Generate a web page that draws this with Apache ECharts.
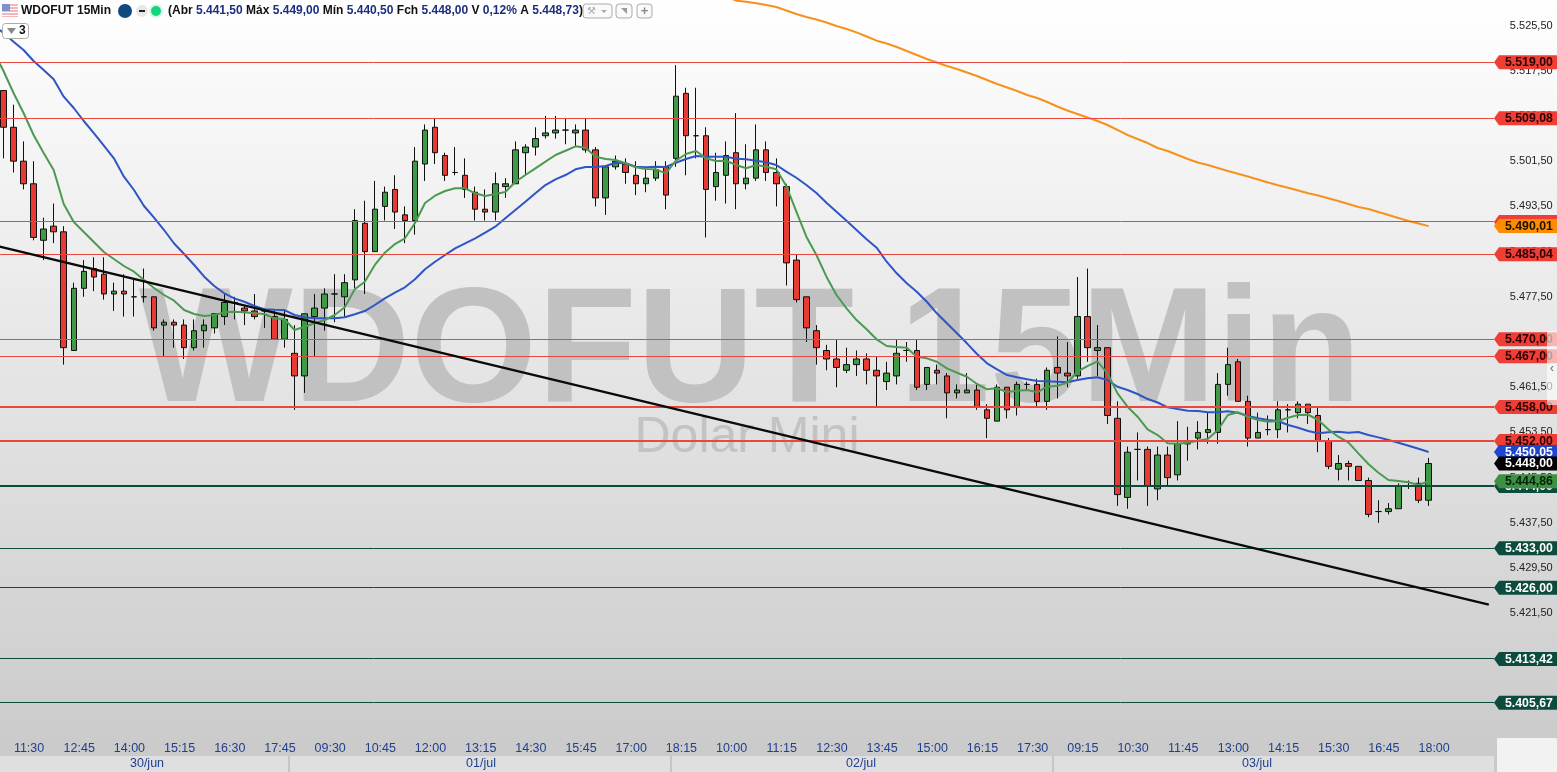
<!DOCTYPE html>
<html>
<head>
<meta charset="utf-8">
<style>html,body{margin:0;padding:0;background:#fff;overflow:hidden;width:1557px;height:772px;position:relative}#c{position:absolute;left:-12px;top:0;width:1569px;height:772px}</style>
<script src="https://cdn.jsdelivr.net/npm/echarts@6/dist/echarts.min.js"></script>
</head>
<body>
<div id="c"></div>
<script>
// Session time grids
const day1Times = ['11:00','11:15','11:30','11:45','12:00','12:15','12:30','12:45','13:00','13:15','13:30','13:45','14:00','14:15','14:30','14:45','15:00','15:15','15:30','15:45','16:00','16:15','16:30','16:45','17:00','17:15','17:30','17:45','18:00','18:15'];
const fullDayTimes = ['09:00','09:15','09:30','09:45','10:00','10:15','10:30','10:45','11:00','11:15','11:30','11:45','12:00','12:15','12:30','12:45','13:00','13:15','13:30','13:45','14:00','14:15','14:30','14:45','15:00','15:15','15:30','15:45','16:00','16:15','16:30','16:45','17:00','17:15','17:30','17:45','18:00','18:15'];
const day4Times = fullDayTimes.slice(0, 37);
const dateLabels = ['30/jun','01/jul','02/jul','03/jul'];

// [open, close, low, high]
const candles = [
[5514,5507.5,5502,5514],[5507.5,5501.5,5499.5,5511.5],[5501.5,5497.5,5496.5,5505],[5497.5,5488,5487.5,5501.5],[5487.5,5489.5,5484,5491.5],
[5490,5489,5487,5494],[5489,5468.5,5465.5,5490],[5468,5479,5468,5480],[5479,5482,5477.5,5484],[5482.5,5481,5478.5,5484.5],
[5481.5,5478,5477,5484.5],[5478,5478.5,5475,5480],[5478.5,5478,5474,5481.5],[5477.5,5477.5,5474,5480.5],[5477.5,5477.5,5476.5,5482.5],
[5477.5,5472,5471.5,5477.5],[5472.5,5473,5467,5473.5],[5473,5472.5,5468.5,5473.5],[5472.5,5468.5,5466.5,5473.5],[5468.5,5471.5,5468,5473.5],
[5471.5,5472.5,5468.5,5473.5],[5472,5474.5,5471,5474.5],[5474,5476.5,5472.5,5478],[5476.5,5476.5,5473.5,5477.5],[5475.5,5475,5472.5,5476],
[5475,5474,5473.5,5478],[5475,5475,5472,5475.5],[5474,5470,5470,5475],[5470,5473.5,5468.5,5475],[5467.5,5463.5,5457.5,5472.5],
[5463.5,5474.5,5460.5,5474.5],[5474,5475.5,5467,5478],[5475.5,5478,5471.5,5479],[5478,5478,5473,5481.5],[5477.5,5480,5474,5481.5],
[5480.5,5491,5479,5493],[5490.5,5485.5,5478,5494.5],[5485.5,5493,5485.5,5498],[5493.5,5496,5491,5497],[5496.5,5492.5,5489.5,5499],
[5492,5491,5487,5493.5],[5491,5501.5,5488.5,5504],[5501,5507,5498,5508],[5507.5,5503,5501,5509],[5502.5,5499,5498,5503],
[5499.5,5499.5,5499,5504],[5499,5496.5,5495,5502],[5496,5493,5491,5497],[5493,5492.5,5491,5496.5],[5492.5,5497.5,5491,5499.5],
[5497,5497.5,5495,5498.5],[5497.5,5503.5,5497.5,5505],[5503,5504,5499,5504.5],[5504,5505.5,5502.5,5507.5],[5506,5506.5,5505.5,5509.5],
[5506.5,5507,5505.5,5509.5],[5507,5507,5504.5,5509],[5506.5,5507,5504,5508],[5507,5503.5,5503,5509],[5503.5,5495,5493.5,5504],
[5495,5500.5,5492,5500.5],[5500.5,5501.5,5500,5502.5],[5501,5499.5,5497.5,5502],[5499,5497.5,5495.5,5501.5],[5497.5,5498.5,5496,5500],
[5498.5,5500,5498,5501.5],[5500.5,5495.5,5493,5501.5],[5502,5513,5500.5,5518.5],[5513.5,5506,5499,5514.5],[5506,5506,5502,5514.5],
[5506,5496.5,5488,5507.5],[5497,5499.5,5494.5,5503],[5499,5502.5,5494,5505],[5503,5497.5,5493,5510],[5497.5,5498.5,5496.5,5504.5],
[5498.5,5503.5,5498,5508],[5503.5,5499.5,5498,5505],[5499.5,5497.5,5493.5,5502],[5497,5483.5,5479.5,5497.5],[5484,5477,5476.5,5485],
[5477.5,5472,5469.5,5477.5],[5471.5,5468.5,5465.5,5472.5],[5468,5466.5,5464.5,5469],[5466.5,5465,5461.5,5470],[5464.5,5465.5,5464,5468.5],
[5465.5,5466.5,5463.5,5468],[5466.5,5464.5,5462,5467.5],[5464.5,5463.5,5458,5467],[5462.5,5464,5461,5466],[5463.5,5467.5,5462,5470],
[5468,5468,5466,5469.5],[5468,5461.5,5461,5470],[5462,5465,5461,5465],[5464.5,5464,5462,5465.5],[5463.5,5460.5,5456,5464],
[5460.5,5461,5459.5,5462],[5460.5,5461,5460.5,5464],[5461,5458,5457.5,5462],[5457.5,5456,5452.5,5458.5],[5455.5,5461.5,5455.5,5462],
[5461.5,5457.5,5456,5461.5],[5458,5462,5456.5,5462.5],[5462,5462,5461,5462.5],[5462,5459,5458,5463],[5459,5464.5,5457.5,5465],
[5465,5464,5459.5,5470.5],[5464,5463.5,5461.5,5469.5],[5463.5,5474,5463,5481],[5474,5468.5,5466,5482.5],[5468,5468.5,5463.5,5472.5],
[5468.5,5456.5,5455,5468.5],[5456,5442.5,5440.5,5459],[5442,5450,5440,5451],[5450.5,5450.5,5445,5453.5],[5450.5,5444,5440.5,5451],
[5443.5,5449.5,5441.5,5451],[5449.5,5445.5,5444,5451],[5446,5451.5,5445,5455.5],[5451.5,5451.5,5448.5,5454.5],[5452.5,5453.5,5450.5,5455.5],
[5453.5,5454,5451.5,5457],[5453.5,5462,5451.5,5464],[5462,5465.5,5460,5468.5],[5466,5459,5459,5466.5],[5459,5452.5,5451,5460],
[5452.5,5453.5,5452.5,5457],[5454,5454,5453,5456.5],[5454,5457.5,5452.5,5459],[5457.5,5457.5,5453.5,5458.5],[5457,5458.5,5456,5459],
[5458.5,5457,5455,5458.5],[5456.5,5452,5450,5458],[5452,5447.5,5447,5452.5],[5447,5448,5445,5449.5],[5448,5447.5,5445,5448.5],
[5447.5,5445,5445,5447.5],[5445,5439,5438.5,5445.5],[5439.5,5439.5,5437.5,5441.5],[5439.5,5440,5439,5441],[5440,5444,5440,5444.5],
[5444,5444,5443.5,5445],[5444.5,5441.5,5441,5445.5],[5441.5,5448,5440.5,5449]
];

// Moving averages; the first entry of fastAverage and midAverage sits one bar before the first candle
const fastAverage = [5521.0,
5517.46,5513.56,5510.02,5506.13,5502.95,5499.94,5493.92,5490.74,5488.97,5487.2,5485.43,5484.19,5482.95,5481.94,5480.47,5479.06,5477.82,5476.81,5475.16,5474.45,
5474.1,5474.28,5474.75,5474.86,5474.75,5474.58,5474.45,5473.69,5473.52,5471.62,5472.21,5472.81,5473.39,5474.28,5475.64,5478.83,5480.17,5483.13,5485.3,5486.84,
5487.85,5490.56,5494.1,5495.39,5496.22,5496.7,5496.7,5495.81,5495.34,5495.69,5496.04,5497.81,5499.05,5500.24,5501.41,5502.59,5503.35,5504.13,5503.88,5502.29,
5501.88,5501.71,5501.12,5500.41,5500.11,5500.06,5499.35,5501.58,5502.77,5503.3,5502.01,5501.53,5501.58,5500.82,5500.24,5500.82,5500.52,5500.06,5497.11,5492.56,
5488.13,5484.9,5481.06,5477.82,5475.46,5473.39,5471.75,5469.98,5468.79,5468.61,5468.49,5466.9,5466.61,5466.01,5464.85,5464.07,5463.36,5462.07,5461.13,5461.31,
5460.65,5460.88,5461.0,5460.6,5461.59,5461.77,5462.3,5464.24,5465.25,5466.09,5463.96,5460.42,5458.05,5456.28,5454.05,5453.04,5451.57,5451.5,5451.68,5452.03,
5452.33,5453.93,5456.58,5457.06,5456.28,5455.7,5455.4,5455.52,5456.1,5456.58,5456.63,5455.7,5454.05,5452.74,5451.75,5449.8,5447.91,5446.37,5445.08,5444.9,
5444.67,5444.19,5444.86];
const midAverage = [5525.6,
5524.18,5522.64,5521.17,5519.23,5517.63,5515.99,5512.91,5510.91,5508.61,5506.48,5504.24,5502.01,5498.75,5496.4,5493.57,5491.5,5489.32,5486.93,5485.07,5483.13,
5481.06,5479.41,5478.12,5477.23,5476.63,5475.87,5475.29,5475.22,5475.16,5474.28,5473.87,5473.69,5473.69,5473.69,5473.87,5474.4,5474.98,5476.05,5477.23,5478.22,
5479.18,5480.6,5482.37,5483.71,5484.9,5486.08,5486.97,5487.85,5488.84,5489.9,5491.39,5492.86,5494.33,5495.81,5497.28,5498.29,5499.05,5500.06,5500.47,5500.47,
5500.64,5501.23,5501.12,5500.52,5500.41,5500.52,5500.47,5501.23,5501.88,5502.41,5502.29,5502.29,5502.29,5501.94,5501.83,5501.58,5501.3,5500.82,5499.64,5498.57,
5497.28,5495.87,5494.15,5492.56,5490.97,5489.32,5487.67,5486.19,5483.71,5481.66,5479.89,5478.4,5476.63,5474.58,5472.81,5471.04,5469.27,5467.38,5465.73,5464.67,
5463.66,5463.25,5462.9,5462.6,5462.55,5462.48,5462.37,5462.78,5463.08,5463.25,5462.78,5461.59,5461.01,5460.3,5459.41,5458.8,5457.95,5457.64,5457.34,5457.29,
5457.06,5457.06,5457.24,5456.99,5456.4,5456.0,5455.7,5455.52,5454.81,5454.33,5453.75,5453.34,5453.52,5453.63,5453.45,5453.57,5453.04,5452.63,5452.16,5451.68,
5451.15,5450.62,5450.05];
// Only visible from bar 72 onward (bar 72 is just above the window)
const slowAverageStart = 72;
const slowAverage = [5530.7,
5529.9,5529.72,5529.45,5529.14,5528.78,5528.16,5527.54,5527.01,5526.57,5526.04,5525.42,5524.89,5524.3,5523.56,5522.82,5522.32,5521.7,5521.0,5520.29,5519.58,
5518.96,5518.34,5517.81,5517.19,5516.57,5515.86,5515.16,5514.54,5513.92,5513.21,5512.68,5511.97,5511.17,5510.47,5509.85,5509.23,5508.61,5507.9,5507.02,5506.13,
5505.42,5504.71,5503.83,5503.3,5502.59,5501.88,5501.26,5500.82,5500.29,5499.76,5499.28,5498.79,5498.26,5497.72,5497.25,5496.79,5496.31,5495.81,5495.42,5494.93,
5494.45,5493.92,5493.39,5493.03,5492.5,5491.97,5491.44,5490.91,5490.47,5490.01];

const trendStart = 5486.65;
const trendEnd = 5423.03;
const resistanceLevels = [5519, 5509.08, 5490.75, 5485.04, 5470, 5467, 5458, 5452];
const supportLevels = [5444, 5433, 5426, 5413.42, 5405.67];
const heavyLevels = [5458, 5452, 5444];
const coveredTagLevels = [5490.75]; // its tag sits under the orange average's tag, so no text shows
const priceTicks = [5525.5,5517.5,5509.5,5501.5,5493.5,5485.5,5477.5,5469.5,5461.5,5453.5,5445.5,5437.5,5429.5,5421.5,5413.5,5405.5];
const lastPrice = 5448;
const trailingSlots = 6;

const OX = 12; // the chart canvas starts this far left of the page
const fmt = v => v.toFixed(2).replace('.', ',').replace(/^(\d)(\d{3})/, '$1.$2');
const times = day1Times.concat(fullDayTimes, fullDayTimes, day4Times);
const categories = [''].concat(times, new Array(trailingSlots).fill(''));
const n = categories.length;
const pad = (arr, lead, blank) => {
  const b = blank === undefined ? null : blank;
  return new Array(lead).fill(b).concat(arr, new Array(n - lead - arr.length).fill(b));
};
const trend = new Array(n).fill(null); trend[0] = trendStart; trend[n - 1] = trendEnd;

const FONT = '"Liberation Sans", Arial, sans-serif';
const RED = '#ee3e36', DARK = '#0c4c3e';

function tagShape(api, params, value, fill, textColor, lineColor, lineW) {
  const y0 = api.coord([0, value])[1];
  const y = lineW === 2 ? Math.round(y0) : Math.floor(y0) + 0.5;
  const right = OX + 1494;
  const kids = [];
  if (lineColor) kids.push({ type: 'line', shape: { x1: OX, y1: y, x2: right, y2: y }, style: { stroke: lineColor, lineWidth: lineW } });
  kids.push({ type: 'polygon', shape: { points: [[OX + 1494, y0], [OX + 1499, y0 - 7], [OX + 1557, y0 - 7], [OX + 1557, y0 + 7], [OX + 1499, y0 + 7]] }, style: { fill: fill } });
  if (coveredTagLevels.indexOf(value) < 0) kids.push({ type: 'text', style: { x: OX + 1505, y: y0 + 0.5, text: fmt(value), fill: textColor, font: 'bold 12.3px ' + FONT, verticalAlign: 'middle' } });
  return { type: 'group', children: kids };
}

const levelRows = resistanceLevels.map(v => [0, v, 0]).concat(supportLevels.map(v => [0, v, 1]));
const lastTagRows = [[0, slowAverage[slowAverage.length - 1], 0], [0, midAverage[midAverage.length - 1], 1], [0, fastAverage[fastAverage.length - 1], 2], [0, lastPrice, 3]];
const lastTagStyle = [['#ff8c00', '#1a1100'], ['#1f47cc', '#ffffff'], ['#3e9142', '#06220a'], ['#000000', '#ffffff']];

const headerText = '{b|(Abr }{v|5.441,50 }{b|Máx }{v|5.449,00 }{b|Mín }{v|5.440,50 }{b|Fch }{v|5.448,00 }{b|V }{v|0,12% }{b|A }{v|5.448,73}{b|)}';

const graphics = [
  // watermark
  { type: 'text', z: 0, x: 750, y: 356, style: { text: 'WDOFUT 15Min', font: 'bold 163px ' + FONT, fill: '#c1c1c1', align: 'center', verticalAlign: 'middle' } },
  { type: 'text', z: 0, x: 747, y: 438, style: { text: 'Dolar Mini', font: '50px ' + FONT, fill: '#c3c3c3', align: 'center', verticalAlign: 'middle' } },
  // date band
  { type: 'rect', z: 1, shape: { x: 0, y: 756, width: 1494, height: 16 }, style: { fill: '#dfdfdf' } },
  { type: 'rect', z: 1, shape: { x: 1497, y: 738, width: 60, height: 34 }, style: { fill: '#f2f2f2' } },
  { type: 'rect', z: 1, shape: { x: 288, y: 756, width: 2, height: 16 }, style: { fill: '#c6c6c6' } },
  { type: 'rect', z: 1, shape: { x: 670, y: 756, width: 2, height: 16 }, style: { fill: '#c6c6c6' } },
  { type: 'rect', z: 1, shape: { x: 1052, y: 756, width: 2, height: 16 }, style: { fill: '#c6c6c6' } },
].concat([147, 481, 861, 1257].map((x, i) => ({
  type: 'text', z: 2, x: x, y: 764, style: { text: dateLabels[i], font: '12.5px ' + FONT, fill: '#1f3f8f', align: 'center', verticalAlign: 'middle' }
}))).concat([
  // title bar
  { type: 'rect', z: 50, shape: { x: 2, y: 4, width: 16, height: 13 }, style: { fill: '#f4b6b6' } },
  { type: 'rect', z: 50, shape: { x: 2, y: 6, width: 16, height: 1 }, style: { fill: '#ffffff' } },
  { type: 'rect', z: 50, shape: { x: 2, y: 9, width: 16, height: 1 }, style: { fill: '#ffffff' } },
  { type: 'rect', z: 50, shape: { x: 2, y: 12, width: 16, height: 1 }, style: { fill: '#ffffff' } },
  { type: 'rect', z: 50, shape: { x: 2, y: 15, width: 16, height: 1 }, style: { fill: '#ffffff' } },
  { type: 'rect', z: 50, shape: { x: 2, y: 4, width: 8, height: 7 }, style: { fill: '#7f8fd0' } },
  { type: 'text', z: 50, x: 21, y: 11, style: { text: 'WDOFUT 15Min', font: 'bold 12px ' + FONT, fill: '#111', verticalAlign: 'middle' } },
  { type: 'circle', z: 50, shape: { cx: 125, cy: 11, r: 7 }, style: { fill: '#0e4a80' } },
  { type: 'circle', z: 50, shape: { cx: 142, cy: 11, r: 6 }, style: { fill: '#e8e8e8' } },
  { type: 'rect', z: 51, shape: { x: 139, y: 10, width: 6, height: 2 }, style: { fill: '#222' } },
  { type: 'circle', z: 50, shape: { cx: 156, cy: 11, r: 7 }, style: { fill: '#d8f4e6' } },
  { type: 'circle', z: 51, shape: { cx: 156, cy: 11, r: 5 }, style: { fill: '#12d67c' } },
  { type: 'text', z: 50, x: 168, y: 11, style: { text: headerText, verticalAlign: 'middle', rich: {
      b: { font: 'bold 12px ' + FONT, fill: '#111' }, v: { font: 'bold 12px ' + FONT, fill: '#1b2f80' } } } },
  { type: 'rect', z: 50, shape: { x: 583, y: 4, width: 29, height: 14, r: 3 }, style: { fill: '#fafafa', stroke: '#aaa', lineWidth: 1 } },
  { type: 'text', z: 51, x: 587, y: 11, style: { text: '⚒', font: '10px "DejaVu Sans"', fill: '#aaa', verticalAlign: 'middle' } },
  { type: 'polygon', z: 51, shape: { points: [[601, 10], [607, 10], [604, 13]] }, style: { fill: '#aaa' } },
  { type: 'rect', z: 50, shape: { x: 616, y: 4, width: 16, height: 14, r: 3 }, style: { fill: '#fafafa', stroke: '#aaa', lineWidth: 1 } },
  { type: 'polygon', z: 51, shape: { points: [[621, 8], [627, 8], [627, 14]] }, style: { fill: '#999' } },
  { type: 'rect', z: 50, shape: { x: 637, y: 4, width: 15, height: 14, r: 3 }, style: { fill: '#fafafa', stroke: '#aaa', lineWidth: 1 } },
  { type: 'text', z: 51, x: 644.5, y: 11, style: { text: '+', font: 'bold 13px ' + FONT, fill: '#888', align: 'center', verticalAlign: 'middle' } },
  { type: 'rect', z: 50, shape: { x: 2.5, y: 23.5, width: 26, height: 15, r: 3 }, style: { fill: '#ffffff', stroke: '#aaa', lineWidth: 1 } },
  { type: 'polygon', z: 51, shape: { points: [[7, 28], [16, 28], [11.5, 34]] }, style: { fill: '#888' } },
  { type: 'text', z: 51, x: 19, y: 31, style: { text: '3', font: 'bold 12px ' + FONT, fill: '#111', verticalAlign: 'middle' } },
  // side scroller
  { type: 'rect', z: 60, shape: { x: 1547, y: 331, width: 10, height: 74 }, style: { fill: 'rgba(255,255,255,0.62)' } },
  { type: 'text', z: 61, x: 1552, y: 369, style: { text: '‹', font: '12px ' + FONT, fill: '#666', align: 'center', verticalAlign: 'middle' } }
]);
graphics.forEach(g => { g.x = (g.x || 0) + OX; });

const chart = echarts.init(document.getElementById('c'), null, { renderer: 'canvas' });
const lineSeries = (name, data, color, width, z) => ({
  name, type: 'line', data, z, showSymbol: false, symbol: 'none', connectNulls: true, smooth: false, clip: true,
  lineStyle: { color, width }, silent: true, animation: false
});

chart.setOption({
  animation: false,
  backgroundColor: { type: 'linear', x: 0, y: 0, x2: 0, y2: 1, colorStops: [{ offset: 0, color: '#ffffff' }, { offset: 1, color: '#c9c9c9' }] },
  graphic: { elements: graphics },
  grid: { left: 0.446, top: 0, width: 10.036 * n, height: 738, containLabel: false },
  xAxis: {
    type: 'category', data: categories, boundaryGap: true,
    axisLine: { show: false }, axisTick: { show: false }, splitLine: { show: false },
    axisLabel: {
      interval: idx => idx >= 3 && idx <= 143 && (idx - 3) % 5 === 0,
      color: '#1f3f8f', fontSize: 12.5, fontFamily: FONT, margin: 4, padding: [0, 0, 0, 11], hideOverlap: false
    }
  },
  yAxis: {
    type: 'value', position: 'right', min: 5399.43, max: 5530.02, scale: true,
    axisLine: { show: false }, axisTick: { show: false }, splitLine: { show: false },
    axisLabel: { customValues: priceTicks, formatter: v => fmt(v), color: '#222', fontSize: 11, fontFamily: FONT, margin: 16, padding: [4, 0, 0, 0] }
  },
  series: [
    { name: 'WDOFUT', type: 'candlestick', z: 3, data: pad(candles, 1, ['-', '-', '-', '-']), barWidth: 6,
      itemStyle: { color: '#3f9a45', color0: '#e63a32', borderColor: '#101010', borderColor0: '#101010', borderColorDoji: '#101010', borderWidth: 1 } },
    lineSeries('Média lenta', pad(slowAverage, slowAverageStart + 1), '#f5921e', 2, 4),
    lineSeries('Média intermediária', pad(midAverage, 0), '#2f55c4', 2, 4),
    lineSeries('Média rápida', pad(fastAverage, 0), '#4b9a50', 2, 5),
    { name: 'Níveis', type: 'custom', z: 6, coordinateSystem: 'cartesian2d', clip: false, encode: { x: 0, y: 1 }, data: levelRows,
      renderItem: (params, api) => {
        const v = api.value(1), support = api.value(2) === 1, heavy = heavyLevels.indexOf(v) >= 0;
        return tagShape(api, params, v, support ? DARK : RED, support ? '#ffffff' : '#2a0000', support ? DARK : '#e8483f', heavy ? 2 : 1);
      } },
    lineSeries('Tendência', trend, '#0a0a0a', 2.5, 7),
    { name: 'Último', type: 'custom', z: 8, coordinateSystem: 'cartesian2d', clip: false, encode: { x: 0, y: 1 }, data: lastTagRows,
      renderItem: (params, api) => {
        const s = lastTagStyle[api.value(2)];
        return tagShape(api, params, api.value(1), s[0], s[1]);
      } }
  ]
});
</script>
</body>
</html>
